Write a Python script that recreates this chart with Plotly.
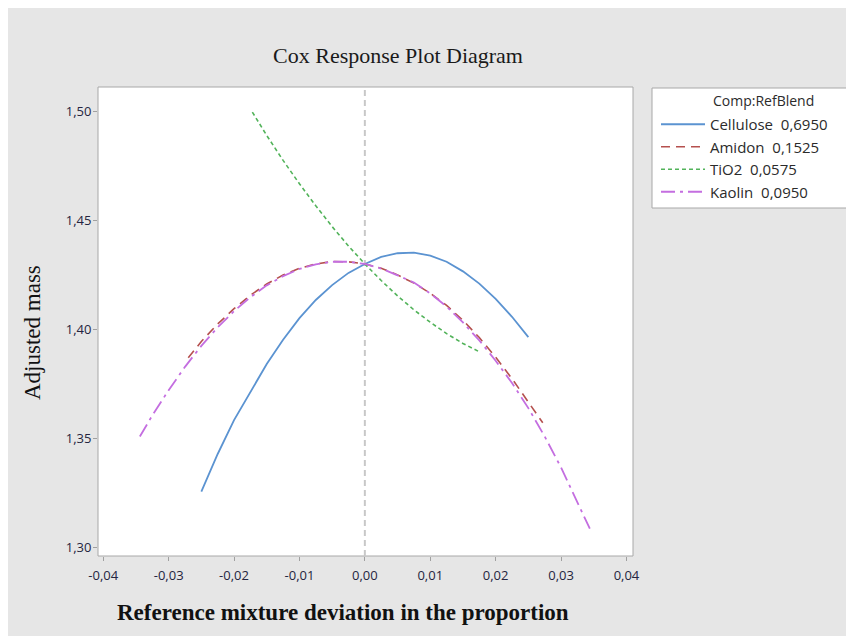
import plotly.graph_objects as go

# ---- data ----
cell_x = [-0.025, -0.0225, -0.02, -0.0175, -0.015, -0.0125, -0.01, -0.0075, -0.005, -0.0025,
          0.0, 0.0025, 0.005, 0.0075, 0.01, 0.0125, 0.015, 0.0175, 0.02, 0.0225, 0.025]
cell_y = [1.3258, 1.3430, 1.3585, 1.3716, 1.3842, 1.3953, 1.4052, 1.4135, 1.4203, 1.4259,
          1.4300, 1.4332, 1.4349, 1.4352, 1.4338, 1.4310, 1.4266, 1.4210, 1.4140, 1.4058, 1.3965]

amid_x = [-0.027, -0.025, -0.0225, -0.02, -0.0175, -0.015, -0.0125, -0.01, -0.0075, -0.005, -0.0025,
          0.0, 0.0025, 0.005, 0.0075, 0.01, 0.0125, 0.015, 0.0175, 0.02, 0.0225, 0.025, 0.0272]
amid_y = [1.3870, 1.3945, 1.4025, 1.4095, 1.4157, 1.4208, 1.4249, 1.4280, 1.4300, 1.4311, 1.4310,
          1.4300, 1.4280, 1.4250, 1.4212, 1.4166, 1.4110, 1.4042, 1.3963, 1.3873, 1.3775, 1.3667, 1.3573]

tio2_x = [-0.0172, -0.015, -0.0125, -0.01, -0.0075, -0.005, -0.0025, 0.0,
          0.0025, 0.005, 0.0075, 0.01, 0.0125, 0.015, 0.0173]
tio2_y = [1.4995, 1.4888, 1.4774, 1.4667, 1.4566, 1.4471, 1.4382, 1.4300,
          1.4224, 1.4154, 1.4090, 1.4033, 1.3981, 1.3936, 1.3901]

kaol_x = [-0.0344, -0.0325, -0.03, -0.0275, -0.025, -0.0225, -0.02, -0.0175, -0.015, -0.0125, -0.01,
          -0.0075, -0.005, -0.0025, 0.0, 0.0025, 0.005, 0.0075, 0.01, 0.0125, 0.015, 0.0175, 0.02,
          0.0225, 0.025, 0.0275, 0.03, 0.0325, 0.0344]
kaol_y = [1.3510, 1.3606, 1.3722, 1.3829, 1.3925, 1.4010, 1.4084, 1.4148, 1.4202, 1.4244, 1.4277,
          1.4298, 1.4310, 1.4310, 1.4300, 1.4279, 1.4248, 1.4215, 1.4165, 1.4105, 1.4032, 1.3950, 1.3857,
          1.3755, 1.3640, 1.3510, 1.3368, 1.3212, 1.3088]

NB = "\u00a0"
names = ["Cellulose" + NB * 2 + "0,6950", "Amidon" + NB * 2 + "0,1525",
         "TiO2" + NB * 2 + "0,0575", "Kaolin" + NB * 2 + "0,0950"]

x_tickvals = [-0.04, -0.03, -0.02, -0.01, 0.0, 0.01, 0.02, 0.03, 0.04]
x_ticktext = ["-0,04", "-0,03", "-0,02", "-0,01", "0,00", "0,01", "0,02", "0,03", "0,04"]
y_tickvals = [1.30, 1.35, 1.40, 1.45, 1.50]
y_ticktext = ["1,30", "1,35", "1,40", "1,45", "1,50"]

# ---- figure ----
fig = go.Figure()
styles = [
    dict(color="#5b93d1", width=1.8, dash="solid"),
    dict(color="#b5504e", width=1.6, dash="9px,6px"),
    dict(color="#52b35a", width=1.6, dash="4px,3px"),
    dict(color="#c46ee0", width=1.8, dash="14px,5px,3px,5px"),
]
series = [(cell_x, cell_y), (amid_x, amid_y), (tio2_x, tio2_y), (kaol_x, kaol_y)]
for i, ((xs, ys), nm, st) in enumerate(zip(series, names, styles)):
    fig.add_trace(go.Scatter(x=xs, y=ys, mode="lines", name=nm, line=st,
                             legendgroup=f"g{i}"))

# page has an 8px body margin; screen coords -> figure coords
OFF = 8
W, H = 854 - OFF, 636 - OFF
PL, PR, PT, PB = 98, 633, 87, 556  # plot area in screen coords
L, R, T, B = PL - OFF, W - (PR - OFF), PT - OFF, H - (PB - OFF)
pw = PR - PL
ph = PB - PT

def px_x(p):
    return (p - PL) / pw

def px_y(p):
    return (PB - p) / ph

sans = "Open Sans, Noto Sans, sans-serif"
serif = "Liberation Serif, Times New Roman, serif"

fig.update_layout(
    width=W, height=H,
    margin=dict(l=L, r=R, t=T, b=B, autoexpand=False),
    paper_bgcolor="#e6e6e6",
    plot_bgcolor="#ffffff",
    showlegend=True,
    legend=dict(x=px_x(656), y=px_y(108), xanchor="left", yanchor="top",
                bgcolor="rgba(0,0,0,0)", borderwidth=0,
                font=dict(family=sans, size=15, color="#2b2b2b"),
                tracegroupgap=0, itemwidth=44),
    title=dict(text="Cox Response Plot Diagram", x=px_x(398), xref="paper",
               xanchor="center", y=1 - (55 - OFF) / H, yanchor="middle",
               font=dict(family=serif, size=22, color="#1a1a1a")),
    shapes=[
        dict(type="rect", xref="paper", yref="paper", x0=0, x1=1, y0=0, y1=1,
             fillcolor="#ffffff", line=dict(color="#a8a8a8", width=1), layer="below"),
        dict(type="rect", xref="paper", yref="paper", x0=px_x(652), x1=px_x(848),
             y0=px_y(88), y1=px_y(208), fillcolor="#ffffff",
             line=dict(color="#a8a8a8", width=1), layer="below"),
        dict(type="line", xref="x", yref="paper", x0=0, x1=0, y0=0, y1=1,
             line=dict(color="#c8c8c8", width=2, dash="6px,4px"), layer="below"),
    ],
    annotations=[
        dict(text="Comp:RefBlend", xref="paper", yref="paper", x=px_x(711), y=px_y(101),
             xanchor="left", yanchor="middle", showarrow=False,
             font=dict(family=sans, size=14, color="#2b2b2b")),
        dict(text="<b>Reference mixture deviation in the proportion</b>", xref="paper", yref="paper",
             x=px_x(343), y=px_y(612), xanchor="center", yanchor="middle", showarrow=False,
             font=dict(family=serif, size=23, color="#111111")),
        dict(text="Adjusted mass", xref="paper", yref="paper", textangle=-90,
             x=px_x(32), y=px_y(333), xanchor="center", yanchor="middle", showarrow=False,
             font=dict(family=serif, size=23, color="#111111")),
    ],
)

fig.update_xaxes(range=[-0.0408, 0.0410], tickvals=x_tickvals, ticktext=x_ticktext,
                 showgrid=False, zeroline=False, showline=False,
                 ticks="outside", ticklen=4, tickcolor="#a0a0a0", ticklabelstandoff=3,
                 tickfont=dict(family=sans, size=13, color="#252540"))
fig.update_yaxes(range=[1.2963, 1.5110], tickvals=y_tickvals, ticktext=y_ticktext,
                 showgrid=False, zeroline=False, showline=False,
                 ticks="outside", ticklen=4, tickcolor="#a0a0a0", ticklabelstandoff=-1,
                 tickfont=dict(family=sans, size=13, color="#252540"))

fig.write_html("out.html")
